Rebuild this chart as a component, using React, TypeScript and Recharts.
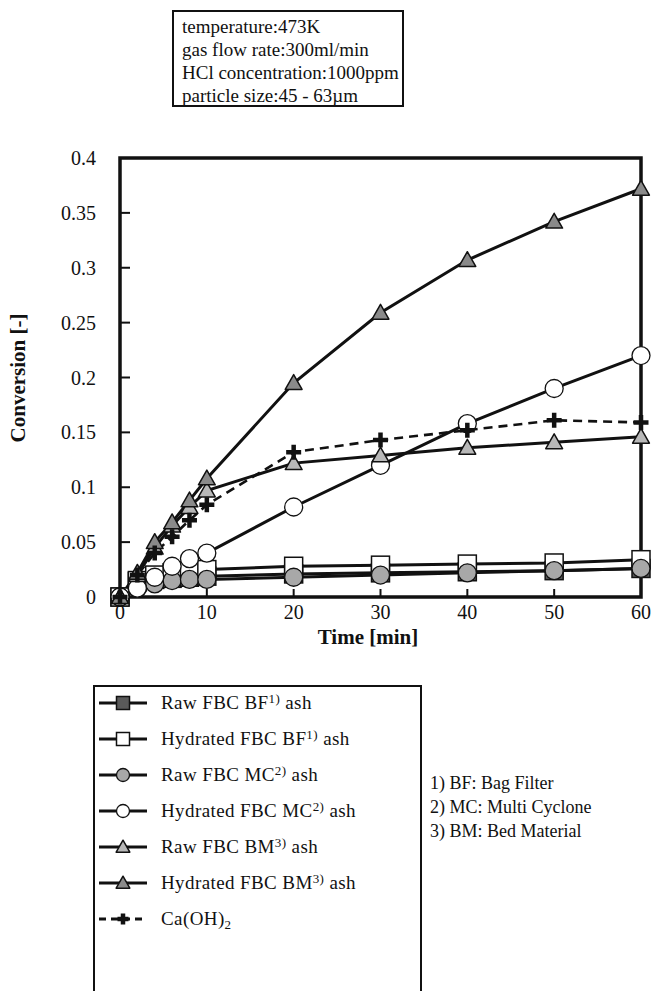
import React from 'react';
import { LineChart, Line, XAxis, YAxis, ReferenceArea, Legend } from 'recharts';

// ---- data ----
const times = [0, 2, 4, 6, 8, 10, 20, 30, 40, 50, 60];
const rawBF = [0, 0.014, 0.016, 0.017, 0.018, 0.019, 0.021, 0.022, 0.023, 0.024, 0.026];
const hydBF = [0, 0.015, 0.020, 0.022, 0.024, 0.025, 0.028, 0.029, 0.030, 0.031, 0.034];
const rawMC = [0, 0.008, 0.012, 0.015, 0.016, 0.016, 0.018, 0.020, 0.022, 0.024, 0.026];
const hydMC = [0, 0.008, 0.018, 0.028, 0.035, 0.040, 0.082, 0.120, 0.158, 0.190, 0.220];
const rawBM = [0, 0.020, 0.045, 0.065, 0.082, 0.097, 0.122, 0.129, 0.136, 0.141, 0.146];
const hydBM = [0, 0.022, 0.050, 0.068, 0.088, 0.108, 0.195, 0.259, 0.307, 0.342, 0.372];
const caOH2 = [0, 0.020, 0.040, 0.055, 0.070, 0.084, 0.132, 0.143, 0.152, 0.161, 0.159];

const xTicks = [0, 10, 20, 30, 40, 50, 60];
const yTicks = [0, 0.05, 0.1, 0.15, 0.2, 0.25, 0.3, 0.35, 0.4];
const yTickLabels = ['0', '0.05', '0.1', '0.15', '0.2', '0.25', '0.3', '0.35', '0.4'];

const conditions = [
  'temperature:473K',
  'gas flow rate:300ml/min',
  'HCl concentration:1000ppm',
  'particle size:45 - 63\u00b5m',
];
const footnotes = ['1) BF: Bag Filter', '2) MC: Multi Cyclone', '3) BM: Bed Material'];

type Shape = 'square' | 'circle' | 'triangle' | 'cross';
interface SeriesCfg {
  key: string;
  values: number[];
  base: string;
  sup?: string;
  sub?: string;
  tail?: string;
  shape: Shape;
  fill: string;
  dash?: string;
}

const series: SeriesCfg[] = [
  { key: 'rawBF', values: rawBF, base: 'Raw FBC BF', sup: '1)', tail: ' ash', shape: 'square', fill: '#5a5a5a' },
  { key: 'hydBF', values: hydBF, base: 'Hydrated FBC BF', sup: '1)', tail: ' ash', shape: 'square', fill: '#ffffff' },
  { key: 'rawMC', values: rawMC, base: 'Raw FBC MC', sup: '2)', tail: ' ash', shape: 'circle', fill: '#a8a8a8' },
  { key: 'hydMC', values: hydMC, base: 'Hydrated FBC MC', sup: '2)', tail: ' ash', shape: 'circle', fill: '#ffffff' },
  { key: 'rawBM', values: rawBM, base: 'Raw FBC BM', sup: '3)', tail: ' ash', shape: 'triangle', fill: '#b8b8b8' },
  { key: 'hydBM', values: hydBM, base: 'Hydrated FBC BM', sup: '3)', tail: ' ash', shape: 'triangle', fill: '#8a8a8a' },
  { key: 'caOH2', values: caOH2, base: 'Ca(OH)', sub: '2', shape: 'cross', fill: '#111111', dash: '9 6' },
];

const tableData = times.map((t, i) => {
  const row: Record<string, number> = { t };
  series.forEach((s) => {
    row[s.key] = s.values[i];
  });
  return row;
});

// ---- layout ----
const W = 652;
const H = 991;
const PLOT_LEFT = 120;
const PLOT_TOP = 158;
const PLOT_RIGHT = 641;
const PLOT_BOTTOM = 597;
const SERIF = '"Liberation Serif", "Times New Roman", serif';

function Marker({ shape, cx, cy, fill, size }: { shape: Shape; cx: number; cy: number; fill: string; size: number }) {
  const s = size / 2;
  if (shape === 'square') {
    return <rect x={cx - s} y={cy - s} width={size} height={size} fill={fill} stroke="#111" strokeWidth={1.5} />;
  }
  if (shape === 'circle') {
    return <circle cx={cx} cy={cy} r={s} fill={fill} stroke="#111" strokeWidth={1.3} />;
  }
  if (shape === 'triangle') {
    const pts = `${cx},${cy - s * 1.05} ${cx + s * 1.05},${cy + s * 0.8} ${cx - s * 1.05},${cy + s * 0.8}`;
    return <polygon points={pts} fill={fill} stroke="#111" strokeWidth={1.5} strokeLinejoin="round" />;
  }
  return (
    <path
      d={`M${cx - s},${cy}H${cx + s}M${cx},${cy - s}V${cy + s}`}
      stroke={fill}
      strokeWidth={4.5}
      fill="none"
    />
  );
}

function makeDot(cfg: SeriesCfg) {
  return (p: any) => {
    if (p.cx == null || p.cy == null) return <g key={`${cfg.key}-${p.index}`} />;
    const size = cfg.shape === 'cross' ? 15 : cfg.shape === 'triangle' ? 16 : 18;
    return (
      <g key={`${cfg.key}-${p.index}`}>
        <Marker shape={cfg.shape} cx={p.cx} cy={p.cy} fill={cfg.fill} size={size} />
      </g>
    );
  };
}

function YTitle() {
  const cx = 18;
  const cy = 378;
  return (
    <text
      x={cx}
      y={cy}
      transform={`rotate(-90, ${cx}, ${cy})`}
      textAnchor="middle"
      dominantBaseline="central"
      fontFamily={SERIF}
      fontWeight="bold"
      fontSize={21}
      fill="#111"
    >
      Conversion [-]
    </text>
  );
}

function XTitle() {
  return (
    <text
      x={368}
      y={637}
      textAnchor="middle"
      dominantBaseline="central"
      fontFamily={SERIF}
      fontWeight="bold"
      fontSize={21}
      fill="#111"
    >
      Time [min]
    </text>
  );
}

function LegendText({ cfg }: { cfg: SeriesCfg }) {
  return (
    <span style={{ fontFamily: SERIF, fontSize: 19, letterSpacing: 0.4, color: '#111', whiteSpace: 'nowrap' }}>
      {cfg.base}
      {cfg.sup ? <span style={{ fontSize: 13, position: 'relative', top: -6 }}>{cfg.sup}</span> : null}
      {cfg.sub ? <span style={{ fontSize: 13, position: 'relative', top: 4 }}>{cfg.sub}</span> : null}
      {cfg.tail ?? ''}
    </span>
  );
}

function LegendBox() {
  return (
    <div
      style={{
        position: 'relative',
        width: 329,
        height: 330,
        border: '2px solid #111',
        boxSizing: 'border-box',
        background: '#fff',
      }}
    >
      {series.map((cfg, i) => (
        <div
          key={cfg.key}
          style={{ position: 'absolute', left: 0, top: 3 + i * 36, height: 26, display: 'flex', alignItems: 'center' }}
        >
          <svg width={60} height={26} style={{ display: 'block' }}>
            <line
              x1={4}
              x2={52}
              y1={13}
              y2={13}
              stroke="#111"
              strokeWidth={3}
              strokeDasharray={cfg.dash ? '7 5' : undefined}
            />
            <Marker
              shape={cfg.shape}
              cx={28}
              cy={13}
              fill={cfg.fill}
              size={cfg.shape === 'cross' ? 11 : 13}
            />
          </svg>
          <div style={{ marginLeft: 6 }}>
            <LegendText cfg={cfg} />
          </div>
        </div>
      ))}
    </div>
  );
}

export default function App() {
  return (
    <div style={{ position: 'absolute', left: 0, top: 0, width: W, height: H, background: '#fff', overflow: 'hidden' }}>
      <div
        style={{
          position: 'absolute',
          left: 172,
          top: 10,
          width: 232,
          height: 97,
          border: '2px solid #111',
          boxSizing: 'border-box',
          padding: '3px 0 0 8px',
          fontFamily: SERIF,
          fontSize: 19,
          lineHeight: '23px',
          letterSpacing: 0,
          color: '#111',
          whiteSpace: 'nowrap',
          zIndex: 2,
        }}
      >
        {conditions.map((c) => (
          <div key={c}>{c}</div>
        ))}
      </div>

      <div
        style={{
          position: 'absolute',
          left: 430,
          top: 771,
          fontFamily: SERIF,
          fontSize: 18,
          lineHeight: '24px',
          color: '#111',
          whiteSpace: 'nowrap',
          zIndex: 2,
        }}
      >
        {footnotes.map((f) => (
          <div key={f}>{f}</div>
        ))}
      </div>

      <LineChart
        width={W}
        height={H}
        data={tableData}
        margin={{ top: PLOT_TOP, right: W - PLOT_RIGHT, bottom: H - PLOT_BOTTOM - 30, left: PLOT_LEFT - 60 }}
      >
        <XAxis
          dataKey="t"
          type="number"
          domain={[0, 60]}
          ticks={xTicks}
          height={30}
          axisLine={false}
          tickSize={-8}
          tickMargin={16}
          tickLine={{ stroke: '#111', strokeWidth: 2 }}
          tick={{ fill: '#111', fontSize: 20, fontFamily: SERIF }}
          interval={0}
          label={<XTitle />}
        />
        <YAxis
          type="number"
          domain={[0, 0.4]}
          ticks={yTicks}
          width={60}
          axisLine={false}
          tickSize={-10}
          tickMargin={34}
          tickLine={{ stroke: '#111', strokeWidth: 2 }}
          tick={{ fill: '#111', fontSize: 20, fontFamily: SERIF }}
          tickFormatter={(v: number) => yTickLabels[yTicks.indexOf(v)] ?? String(v)}
          interval={0}
          label={<YTitle />}
        />
        <ReferenceArea x1={0} x2={60} y1={0} y2={0.4} fill="none" stroke="#111" strokeWidth={3.5} ifOverflow="visible" />
        {series.map((cfg) => (
          <Line
            key={cfg.key}
            dataKey={cfg.key}
            name={cfg.base}
            type="linear"
            stroke="#111"
            strokeWidth={cfg.dash ? 2.6 : 3}
            strokeDasharray={cfg.dash}
            dot={makeDot(cfg)}
            activeDot={false}
            isAnimationActive={false}
          />
        ))}
        <Legend
          layout="vertical"
          align="center"
          verticalAlign="middle"
          content={() => <LegendBox />}
          wrapperStyle={{ position: 'absolute', left: 93, top: 685, width: 329, height: 330 }}
        />
      </LineChart>
    </div>
  );
}
